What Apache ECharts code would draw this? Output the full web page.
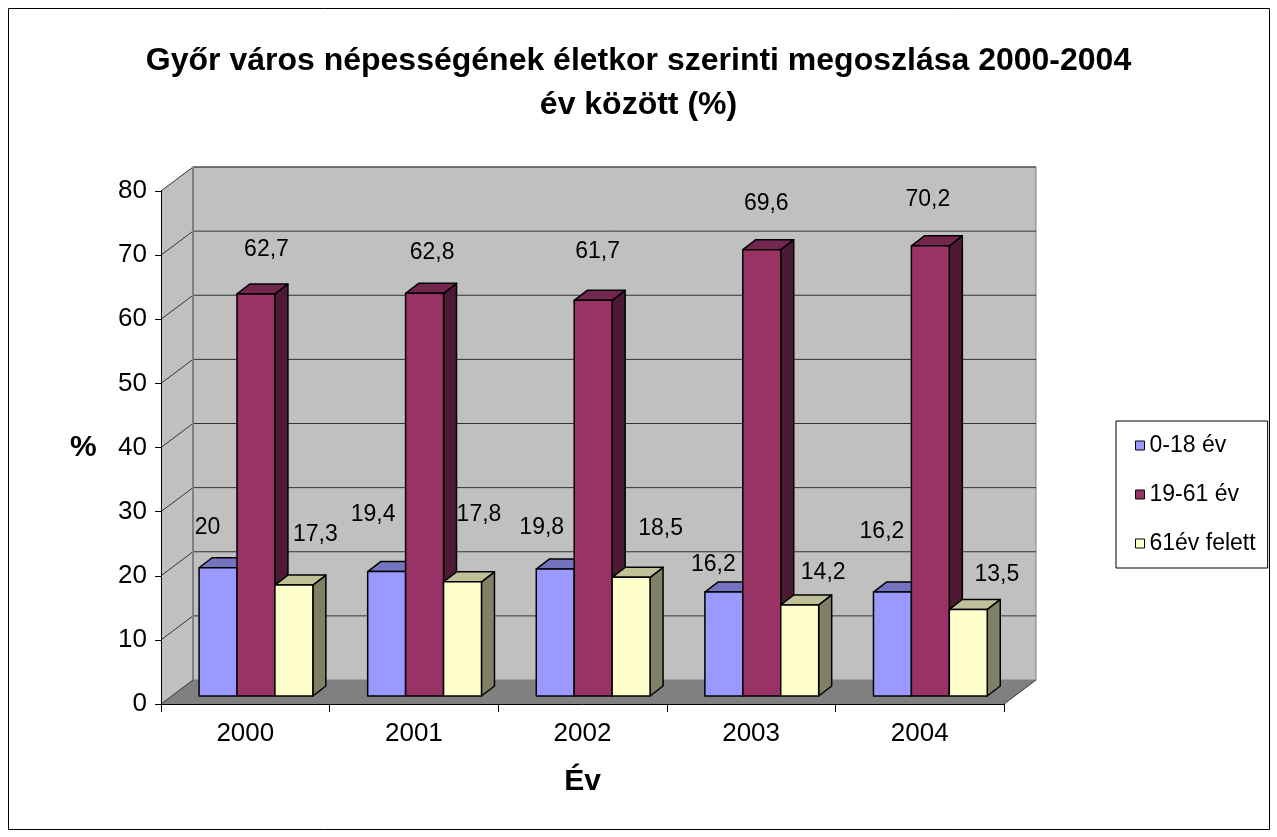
<!DOCTYPE html>
<html>
<head>
<meta charset="utf-8">
<script src="https://cdn.jsdelivr.net/npm/echarts@6/dist/echarts.min.js"></script>
<style>html,body{margin:0;padding:0;background:#fff}#c{width:1277px;height:837px}</style>
</head>
<body>
<div id="c"></div>
<script>
// ---- data ----
const years = ['2000', '2001', '2002', '2003', '2004'];
const seriesNames = ['0-18 év', '19-61 év', '61év felett'];
const young = [20, 19.4, 19.8, 16.2, 16.2];
const adult = [62.7, 62.8, 61.7, 69.6, 70.2];
const old = [17.3, 17.8, 18.5, 14.2, 13.5];
const yMin = 0, yMax = 80, yStep = 10;

// ---- styles ----
const FONT = '"Liberation Sans", Arial, sans-serif';
const DX = 32, DY = -24;            // depth of the 3D box (px)
const FX = DX / 3, FY = DY / 3;     // bar front plane offset
const BX = 13, BY = -10;            // bar depth
const BAR_FRAC = 0.225;             // bar width as fraction of category
const palette = [
  { front: '#9999FF', top: '#7373C0', side: '#4D4D80' },
  { front: '#993366', top: '#732650', side: '#4D1A33' },
  { front: '#FFFFCC', top: '#C0C099', side: '#808066' }
];
// label offsets from the top-face centre of each bar (px)
const labelNudge = [
  [[-17, -35], [-20, -52], [-20, -36], [-17, -22], [-17, -55]],
  [[4, -39], [1, -36], [-2, -44], [-2, -41], [-9, -41]],
  [[15, -45], [10, -62], [23, -44], [17, -27], [22, -30]]
];

const seriesValues = [young, adult, old];
const fmt = v => String(v).replace('.', ',');

function renderWall(params, api) {
  const cs = params.coordSys;
  const x0 = cs.x, x1 = cs.x + cs.width;
  const y0 = api.coord([0, yMin])[1], yT = api.coord([0, yMax])[1];
  const children = [];
  children.push({ type: 'polygon', shape: { points: [[x0, y0], [x0, yT], [x0 + DX, yT + DY], [x0 + DX, y0 + DY]] },
    style: { fill: '#C0C0C0', stroke: null } });
  children.push({ type: 'rect', shape: { x: x0 + DX, y: yT + DY, width: x1 - x0, height: y0 - yT },
    style: { fill: '#C0C0C0', stroke: '#808080', lineWidth: 1 } });
  children.push({ type: 'polygon', shape: { points: [[x0, y0], [x1, y0], [x1 + DX, y0 + DY], [x0 + DX, y0 + DY]] },
    style: { fill: '#808080', stroke: null } });
  for (let v = yMin + yStep; v <= yMax; v += yStep) {
    const y = api.coord([0, v])[1];
    children.push({ type: 'polyline', shape: { points: [[x0, y], [x0 + DX, y + DY], [x1 + DX, y + DY]] },
      style: { fill: null, stroke: '#333333', lineWidth: 1 } });
  }
  children.push({ type: 'line', shape: { x1: x0 + DX, y1: yT + DY, x2: x0 + DX, y2: y0 + DY },
    style: { stroke: '#808080', lineWidth: 2 } });
  children.push({ type: 'line', shape: { x1: x0, y1: y0, x2: x0 + DX, y2: y0 + DY }, style: { stroke: '#333', lineWidth: 1 } });
  children.push({ type: 'line', shape: { x1: x1, y1: y0, x2: x1 + DX, y2: y0 + DY }, style: { stroke: '#333', lineWidth: 1 } });
  return { type: 'group', children };
}

function makeBarRenderer(si) {
  return function (params, api) {
    const ci = api.value(0), val = api.value(1);
    const top = api.coord([ci, val]);
    const base = api.coord([ci, yMin]);
    const w = api.size([1, 0])[0];
    const bw = w * BAR_FRAC;
    const xl = top[0] - 1.5 * bw + si * bw + FX;
    const yt = top[1] + FY;
    const yb = base[1] + FY;
    const c = palette[si];
    const st = { stroke: '#000', lineWidth: 1.5, lineJoin: 'round' };
    const nud = labelNudge[si][params.dataIndex];
    const lx = xl + bw / 2 + BX / 2 + nud[0];
    const ly = yt + BY / 2 + nud[1];
    return {
      type: 'group',
      children: [
        { type: 'polygon', shape: { points: [[xl + bw, yt], [xl + bw + BX, yt + BY], [xl + bw + BX, yb + BY], [xl + bw, yb]] },
          style: Object.assign({ fill: c.side }, st) },
        { type: 'polygon', shape: { points: [[xl, yt], [xl + bw, yt], [xl + bw + BX, yt + BY], [xl + BX, yt + BY]] },
          style: Object.assign({ fill: c.top }, st) },
        { type: 'rect', shape: { x: xl, y: yt, width: bw, height: yb - yt },
          style: Object.assign({ fill: c.front }, st) },
        { type: 'text', style: { text: fmt(val), x: lx, y: ly, align: 'center', verticalAlign: 'middle',
          fill: '#000', fontSize: 23, fontFamily: FONT } }
      ]
    };
  };
}

const chart = echarts.init(document.getElementById('c'), null, { renderer: 'canvas' });
const series = [{
  type: 'custom', name: '_wall', silent: true, z: 1,
  renderItem: renderWall, data: [[0, 0]], encode: { x: 0, y: 1 }
}];
seriesValues.forEach((vals, si) => {
  series.push({
    type: 'custom', name: seriesNames[si], z: 2,
    itemStyle: { color: palette[si].front },
    renderItem: makeBarRenderer(si),
    encode: { x: 0, y: 1 },
    data: vals.map((v, i) => [i, v])
  });
});

chart.setOption({
  animation: false,
  backgroundColor: '#fff',
  textStyle: { fontFamily: FONT },
  title: {
    text: 'Győr város népességének életkor szerinti megoszlása 2000-2004\név között (%)',
    left: 'center', top: 34,
    textStyle: { fontSize: 32, fontWeight: 'bold', color: '#000', lineHeight: 44, fontFamily: FONT, align: 'center' }
  },
  legend: {
    data: seriesNames,
    orient: 'vertical', left: 1116, top: 421,
    icon: 'rect', itemWidth: 9, itemHeight: 9, itemGap: 26,
    padding: [13, 12, 13, 19],
    borderColor: '#000', borderWidth: 1, backgroundColor: '#fff',
    itemStyle: { borderColor: '#000', borderWidth: 1 },
    textStyle: { fontSize: 23, color: '#000', lineHeight: 20, fontFamily: FONT }
  },
  grid: { left: 161, top: 191, width: 843, height: 513, containLabel: false },
  xAxis: {
    type: 'category', data: years, z: 10,
    name: 'Év', nameLocation: 'middle', nameGap: 63,
    nameTextStyle: { fontSize: 30, fontWeight: 'bold', color: '#000', fontFamily: FONT },
    axisLine: { lineStyle: { color: '#000', width: 1 } },
    axisTick: { show: true, length: 8, interval: 0, lineStyle: { color: '#000' } },
    axisLabel: { fontSize: 26, color: '#000', margin: 17, fontFamily: FONT },
    splitLine: { show: false }
  },
  yAxis: {
    type: 'value', min: yMin, max: yMax, interval: yStep, z: 10,
    axisLine: { show: true, lineStyle: { color: '#000', width: 1 } },
    axisTick: { show: true, length: 6, lineStyle: { color: '#000' } },
    axisLabel: { fontSize: 26, color: '#000', margin: 14, fontFamily: FONT },
    splitLine: { show: false }
  },
  graphic: [
    { type: 'rect', silent: true, z: -1, shape: { x: 8.5, y: 8.5, width: 1261, height: 821 },
      style: { fill: null, stroke: '#000', lineWidth: 1 } },
    { type: 'text', left: 70, top: 433, style: { text: '%', fontSize: 30, fontWeight: 'bold', fill: '#000', fontFamily: FONT } }
  ],
  series
});
</script>
</body>
</html>
